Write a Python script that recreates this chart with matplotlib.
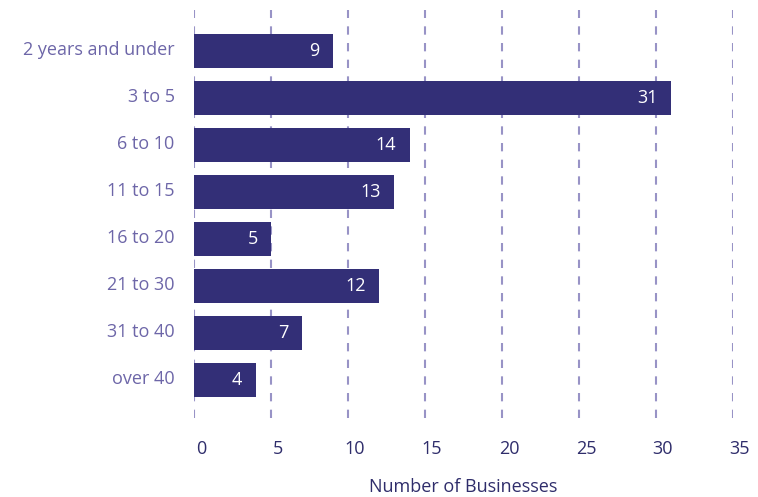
import matplotlib
matplotlib.use("Agg")
import matplotlib.pyplot as plt
from matplotlib import transforms

categories = ["2 years and under", "3 to 5", "6 to 10", "11 to 15",
              "16 to 20", "21 to 30", "31 to 40", "over 40"]
values = [9, 31, 14, 13, 5, 12, 7, 4]
xticks = [0, 5, 10, 15, 20, 25, 30, 35]

BAR = "#332F77"
GRID = "#9893C6"
YLAB = "#6D66A8"
XLAB = "#2F2D6B"

plt.rcParams["font.family"] = ["Open Sans", "DejaVu Sans"]

fig = plt.figure(figsize=(7.58, 4.97), dpi=100)
ax = fig.add_axes([0.256, 0.159, 0.711, 0.821])

y = list(range(len(categories)))
ax.barh(y, values, height=0.72, color=BAR, zorder=3)

for yi, v in zip(y, values):
    ax.annotate(str(v), xy=(v, yi), xytext=(-9.5, 0), textcoords="offset points",
                ha="right", va="center", color="white", fontsize=13, zorder=4)

ax.set_xlim(0, 35)
ax.set_ylim(7.81, -0.87)
ax.set_xticks(xticks)
ax.set_xticklabels([str(t) for t in xticks])
ax.set_yticks(y)
ax.set_yticklabels(categories)

ax.grid(axis="x", color=GRID, linestyle=(0, (4, 4)), linewidth=1.5, zorder=0)
ax.grid(axis="y", visible=False)
for s in ax.spines.values():
    s.set_visible(False)

ax.tick_params(axis="x", length=0, pad=16, labelsize=13, labelcolor=XLAB)
ax.tick_params(axis="y", length=0, pad=14, labelsize=13, labelcolor=YLAB)

xshift = transforms.ScaledTranslation(7 / 100, 0, fig.dpi_scale_trans)
for lbl in ax.get_xticklabels():
    lbl.set_transform(lbl.get_transform() + xshift)
yshift = transforms.ScaledTranslation(0, 3 / 100, fig.dpi_scale_trans)
for lbl in ax.get_yticklabels():
    lbl.set_transform(lbl.get_transform() + yshift)

ax.set_xlabel("Number of Businesses", color=XLAB, fontsize=13, labelpad=14)

fig.savefig("out.png", dpi=100)
